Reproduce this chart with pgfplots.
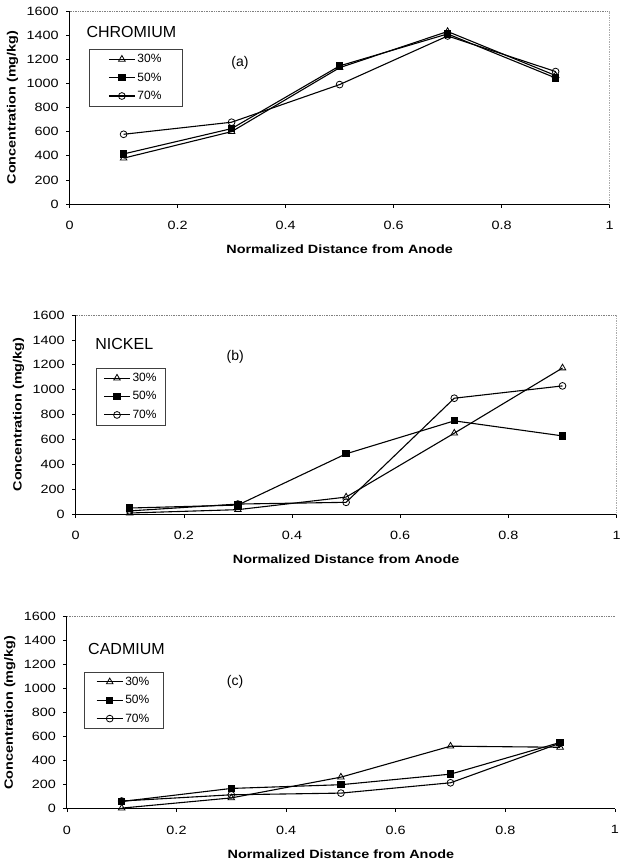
\documentclass[border=0pt]{standalone}
\usepackage{fontspec}
\setmainfont{Liberation Sans}
\newfontfamily\widefont{Liberation Sans}[FakeStretch=1.2]
\usepackage{pgfplots}
\pgfplotsset{compat=1.18}

\pgfplotsset{
  panel/.style={
    scale only axis,
    anchor=north west,
    xmin=0, xmax=1, ymin=0, ymax=1600,
    xtick={0,0.2,0.4,0.6,0.8,1},
    ytick={0,200,400,600,800,1000,1200,1400,1600},
    axis x line*=bottom, axis y line*=left,
    hide obscured x ticks=false, hide obscured y ticks=false,
    axis line style={line width=0.9pt, -},
    tick align=outside,
    major tick length=3.5pt,
    tick style={line width=0.6pt, black},
    /pgf/number format/assume math mode=true,
    /pgf/number format/1000 sep={},
    tick label style={font=\widefont\fontsize{12}{14}\selectfont},
    xticklabel style={yshift=-10pt},
    yticklabel style={xshift=-4pt},
    xlabel={Normalized Distance from Anode},
    ylabel={Concentration (mg/kg)},
    label style={font=\widefont\bfseries\fontsize{12}{14}\selectfont},
    xlabel style={at={(axis description cs:0.5,0)}, anchor=center, yshift=-45pt},
    ylabel style={at={(axis description cs:0,0.5)}, anchor=center, yshift=57pt},
    legend cell align=left,
    legend style={draw=black!75, line width=0.6pt, anchor=north west,
      font=\fontsize{12}{13}\selectfont, row sep=4.5pt, inner ysep=3pt},
    legend image code/.code={
      \draw[mark repeat=2, mark phase=2] plot coordinates {(0pt,0pt)(13pt,0pt)(26pt,0pt)};},
    every axis plot/.append style={line width=1.1pt, black},
  },
  s30/.style={mark=triangle, mark size=3.8pt, mark options={solid, fill=white, line width=0.8pt}},
  s50/.style={mark=square*, mark size=3.1pt, mark options={solid, fill=black}},
  s70/.style={mark=o, mark size=3.4pt, mark options={solid, fill=white, line width=0.8pt}},
}

\begin{document}
\begin{tikzpicture}
\useasboundingbox (0pt,0pt) rectangle (624pt,-862pt);

% (a) Chromium
\begin{axis}[panel, at={(69.6pt,-11pt)}, width=540pt, height=193pt,
  legend style={at={(rel axis cs:0.036,0.803)}, inner xsep=19pt}]
\addplot[s30] coordinates {(0.1,380)(0.3,600)(0.5,1130)(0.7,1430)(0.9,1065)};
\addlegendentry{30\%}
\addplot[s50] coordinates {(0.1,415)(0.3,625)(0.5,1145)(0.7,1410)(0.9,1045)};
\addlegendentry{50\%}
\addplot[s70] coordinates {(0.1,578)(0.3,678)(0.5,990)(0.7,1393)(0.9,1098)};
\addlegendentry{70\%}
\draw[gray, densely dotted, line width=0.7pt] (rel axis cs:0,1) -- (rel axis cs:1,1) -- (rel axis cs:1,0);
\node[anchor=west, font=\fontsize{16}{18}\selectfont] at (rel axis cs:0.0248,0.889) {CHROMIUM};
\node[font=\fontsize{14}{16}\selectfont] at (axis cs:0.3155,1171) {(a)};
\end{axis}

% (b) Nickel
\begin{axis}[panel, at={(75.6pt,-315pt)}, width=541pt, height=199pt,
  legend style={at={(rel axis cs:0.038,0.734)}, inner xsep=7pt}]
\addplot[s30] coordinates {(0.1,8)(0.3,35)(0.5,136)(0.7,650)(0.9,1174)};
\addlegendentry{30\%}
\addplot[s50] coordinates {(0.1,48)(0.3,72)(0.5,484)(0.7,749)(0.9,628)};
\addlegendentry{50\%}
\addplot[s70] coordinates {(0.1,25)(0.3,80)(0.5,94)(0.7,931)(0.9,1030)};
\addlegendentry{70\%}
\draw[gray, densely dotted, line width=0.7pt] (rel axis cs:0,1) -- (rel axis cs:1,1) -- (rel axis cs:1,0);
\node[anchor=west, font=\fontsize{16}{18}\selectfont] at (rel axis cs:0.030,0.854) {NICKEL};
\node[font=\fontsize{14}{16}\selectfont] at (axis cs:0.295,1265) {(b)};
\end{axis}

% (c) Cadmium
\begin{axis}[panel, at={(66.9pt,-616.7pt)}, width=548pt, height=192pt,
  legend style={at={(rel axis cs:0.031,0.714)}, inner xsep=12pt}]
\addplot[s30] coordinates {(0.1,5)(0.3,90)(0.5,263)(0.7,521)(0.9,512)};
\addlegendentry{30\%}
\addplot[s50] coordinates {(0.1,60)(0.3,169)(0.5,200)(0.7,288)(0.9,552)};
\addlegendentry{50\%}
\addplot[s70] coordinates {(0.1,64)(0.3,116)(0.5,130)(0.7,216)(0.9,546)};
\addlegendentry{70\%}
\draw[gray, densely dotted, line width=0.7pt] (rel axis cs:0,1) -- (rel axis cs:1,1) -- (rel axis cs:1,0);
\node[anchor=west, font=\fontsize{16}{18}\selectfont] at (rel axis cs:0.0325,0.833) {CADMIUM};
\node[font=\fontsize{14}{16}\selectfont] at (axis cs:0.307,1058) {(c)};
\end{axis}
\end{tikzpicture}
\end{document}
